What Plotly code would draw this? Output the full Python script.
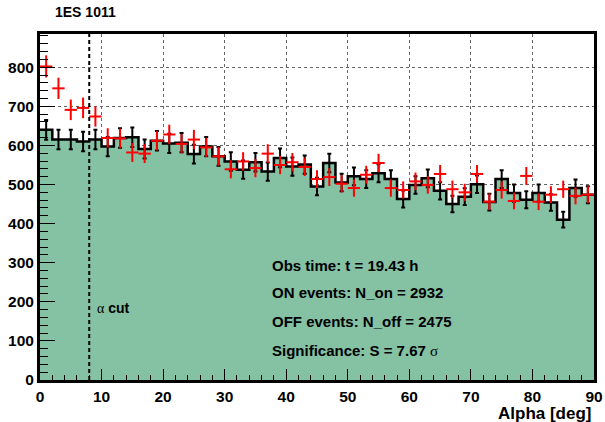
import numpy as np
import plotly.graph_objects as go

# Bin centres of the alpha histogram (deg), bin width 2
alpha = [1, 3, 5, 7, 9, 11, 13, 15, 17, 19, 21, 23, 25, 27, 29, 31, 33, 35, 37, 39,
         41, 43, 45, 47, 49, 51, 53, 55, 57, 59, 61, 63, 65, 67, 69, 71, 73, 75, 77, 79,
         81, 83, 85, 87, 89]

# ON-source counts (red crosses)
on_counts = [802, 746, 691, 696, 674, 619, 618, 582, 579, 612, 628, 604, 615, 595, 572,
             539, 559, 542, 579, 550, 557, 545, 514, 519, 502, 491, 525, 555, 491, 486,
             508, 499, 527, 488, 480, 527, 456, 486, 458, 522, 456, 474, 488, 471, 474]

# OFF-source counts (filled histogram)
off_counts = [640, 615, 615, 610, 615, 597, 619, 621, 591, 612, 605, 607, 578, 597, 572,
              559, 538, 557, 533, 568, 546, 551, 495, 555, 505, 521, 514, 529, 514, 463,
              499, 516, 484, 450, 469, 501, 455, 514, 478, 461, 478, 454, 410, 491, 474]

bin_half = 1.0
alpha_cut = 8
title_text = "1ES 1011"
stats_lines = ["Obs time: t = 19.43 h",
               "ON events: N_on = 2932",
               "OFF events: N_off = 2475",
               "Significance: S = 7.67 <span style='font-family:Liberation Serif;font-weight:normal'>σ</span>"]
stats_y = [294, 225, 150, 76]

FONT = "Liberation Sans, Arial, Helvetica, sans-serif"
GREEN = "#85C1A3"

on_err = np.sqrt(on_counts)
off_err = np.sqrt(off_counts)

edges = [a - bin_half for a in alpha] + [alpha[-1] + bin_half]
step_y = off_counts + [off_counts[-1]]

fig = go.Figure()

# OFF histogram: filled steps
fig.add_trace(go.Scatter(x=edges, y=step_y, mode="lines", line_shape="hv",
                         line=dict(color="black", width=2.5),
                         fill="tozeroy", fillcolor=GREEN, hoverinfo="skip"))
# OFF error bars
fig.add_trace(go.Scatter(x=alpha, y=off_counts, mode="markers",
                         marker=dict(size=1, color="black"),
                         error_y=dict(type="data", array=off_err, color="black",
                                      thickness=2, width=2)))
# ON points: red crosses
fig.add_trace(go.Scatter(x=alpha, y=on_counts, mode="markers",
                         marker=dict(size=1, color="red"),
                         error_y=dict(type="data", array=on_err, color="red",
                                      thickness=2, width=0),
                         error_x=dict(type="constant", value=bin_half, color="red",
                                      thickness=2, width=0)))

# alpha cut line
fig.add_shape(type="line", x0=alpha_cut, x1=alpha_cut, y0=0, y1=1,
              xref="x", yref="paper",
              line=dict(color="black", width=2, dash="4px,3px"))

fig.add_annotation(x=9.0, y=184, xref="x", yref="y", xanchor="left", yanchor="middle",
                   showarrow=False,
                   text="<span style='font-family:Liberation Serif;font-weight:normal'>α</span> cut",
                   font=dict(family=FONT, size=14, color="black", weight="bold"))

for txt, yv in zip(stats_lines, stats_y):
    fig.add_annotation(x=37.4, y=yv, xref="x", yref="y", xanchor="left", yanchor="middle",
                       showarrow=False, text=txt,
                       font=dict(family=FONT, size=15, color="black", weight="bold"))

fig.add_annotation(x=1, y=-0.097, xref="paper", yref="paper", xanchor="right",
                   yanchor="middle", showarrow=False, text="Alpha [deg]",
                   font=dict(family=FONT, size=17, color="black", weight="bold"))

fig.update_layout(
    width=605, height=422,
    margin=dict(l=40, r=11, t=34, b=42, autoexpand=False),
    plot_bgcolor="white", paper_bgcolor="white",
    showlegend=False,
    title=dict(text=title_text, x=55 / 605, xanchor="left", y=1 - 12 / 422,
               yanchor="middle", font=dict(family=FONT, size=14, color="black",
                                            weight="bold")),
)

axis_common = dict(
    automargin=False,
    showline=True, linecolor="black", linewidth=3, mirror=True,
    ticks="inside", tickcolor="black", tickwidth=1,
    showgrid=True, gridcolor="#666666", griddash="dot", gridwidth=1,
    zeroline=False,
    tickfont=dict(family=FONT, size=15.5, color="black", weight="bold"),
)

fig.update_xaxes(range=[0, 90], dtick=10, tick0=0, ticklen=11,
                 minor=dict(dtick=2, ticklen=5, ticks="inside", tickcolor="black",
                            tickwidth=1, showgrid=False),
                 **axis_common)
fig.update_yaxes(range=[0, 885], dtick=100, tick0=0, ticklen=15,
                 minor=dict(dtick=20, ticklen=8, ticks="inside", tickcolor="black",
                            tickwidth=1, showgrid=False),
                 **axis_common)

fig.write_html("out.html",
               config={"displayModeBar": False},
               post_script="document.body.style.margin='0px';"
                           "document.body.style.overflow='hidden';")
